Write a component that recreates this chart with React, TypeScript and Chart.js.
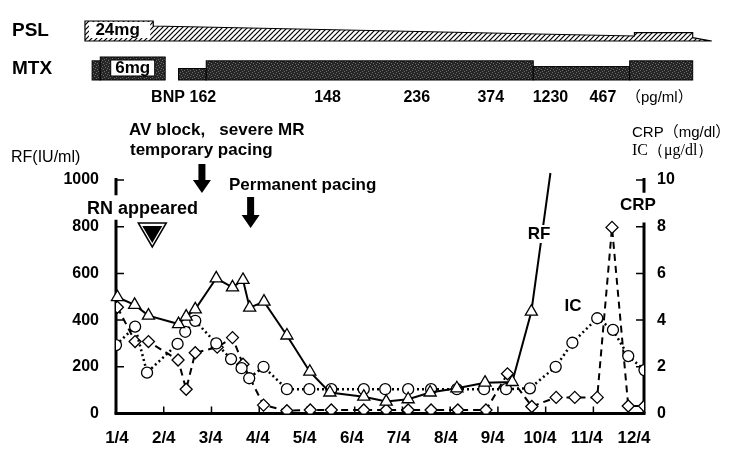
import React, { useEffect, useRef } from "react";
import { Chart, registerables } from "chart.js";

Chart.register(...registerables);

// ---------------- data ----------------
const monthLabels = ["1/4", "2/4", "3/4", "4/4", "5/4", "6/4", "7/4", "8/4", "9/4", "10/4", "11/4", "12/4"];
const monthPositions = [0, 1, 2, 3, 4, 5, 6, 7, 8, 9, 10, 11];
// where each month label is centred on the time axis (as printed)
const monthLabelPositions = [0.02, 1.0, 1.98, 2.97, 3.95, 4.94, 5.92, 6.91, 7.89, 8.88, 9.86, 10.85];
const leftTicks = [0, 200, 400, 600, 800, 1000];
const rightTicks = [0, 2, 4, 6, 8, 10];

// RF (IU/ml), x = months after 1/4
const rfX = [0.03, 0.39, 0.68, 1.31, 1.47, 1.66, 2.1, 2.44, 2.66, 2.8, 3.1, 3.58, 4.06, 4.48, 5.19, 5.66, 6.12, 6.58, 7.14, 7.73, 8.3, 8.7, 9.1];
const rfVal = [498, 465, 419, 383, 415, 446, 579, 540, 572, 453, 479, 334, 179, 90, 72, 51, 61, 90, 108, 132, 135, 436, 1030];

// IC (ug/dl)
const icX = [0.0, 0.4, 0.65, 1.29, 1.45, 1.66, 2.1, 2.41, 2.63, 2.79, 3.09, 3.58, 4.05, 4.51, 5.19, 5.64, 6.12, 6.6, 7.14, 7.71, 8.17, 8.67, 9.21, 9.56, 10.08, 10.41, 10.73, 11.07];
const icVal = [2.93, 3.72, 1.75, 2.98, 3.5, 3.97, 3.0, 2.33, 1.94, 1.51, 2.0, 1.04, 1.04, 1.04, 1.04, 1.04, 1.04, 1.04, 1.04, 1.04, 1.04, 1.08, 2.0, 3.03, 4.08, 3.58, 2.46, 1.86];

// CRP (mg/dl)
const crpX = [0.03, 0.4, 0.68, 1.3, 1.47, 1.66, 2.12, 2.44, 2.66, 3.09, 3.58, 4.07, 4.51, 5.19, 5.66, 6.12, 6.6, 7.16, 7.75, 8.2, 8.71, 9.22, 9.61, 10.08, 10.39, 10.73, 11.07];
const crpVal = [4.55, 3.08, 3.08, 2.29, 1.04, 2.6, 2.84, 3.25, 2.11, 0.36, 0.12, 0.15, 0.15, 0.15, 0.15, 0.15, 0.15, 0.15, 0.15, 1.7, 0.3, 0.69, 0.69, 0.69, 7.97, 0.32, 0.32];

// PSL taper (mg/day) outline points
const pslX = [-0.65, 0.78, 0.78, 10.86, 10.86, 12.08, 12.08, 12.48];
const pslDose = [24, 24, 18, 6, 10, 10, 4, 0];

// MTX (mg/week) segments
const mtxStart = [-0.5, -0.33, 1.31, 1.89, 8.74, 10.76];
const mtxEnd = [-0.33, 1.03, 1.89, 8.74, 10.76, 12.08];
const mtxDose = [5, 6, 3, 5, 3.5, 5];

// BNP (pg/ml)
const bnpX = [1.82, 4.43, 6.3, 7.85, 9.1, 10.2];
const bnpVal = ["162", "148", "236", "374", "1230", "467"];

// events
const eventArrowX = [1.8, 2.82];
const rnX = 0.76;

// ---------------- styles ----------------
const SANS = "'Liberation Sans', Arial, sans-serif";
const SERIF = "'Liberation Serif', 'Times New Roman', serif";
const GOTHIC = "'Liberation Sans', 'Noto Sans CJK JP', sans-serif";

function makeHatch(ctx: CanvasRenderingContext2D) {
  const c = document.createElement("canvas");
  c.width = 5;
  c.height = 5;
  const g = c.getContext("2d")!;
  g.fillStyle = "#fff";
  g.fillRect(0, 0, 5, 5);
  g.strokeStyle = "#000";
  g.lineWidth = 1.2;
  g.beginPath();
  g.moveTo(-1, 6);
  g.lineTo(6, -1);
  g.stroke();
  g.beginPath();
  g.moveTo(-1, 1);
  g.lineTo(1, -1);
  g.stroke();
  g.beginPath();
  g.moveTo(4, 6);
  g.lineTo(6, 4);
  g.stroke();
  return ctx.createPattern(c, "repeat")!;
}

function makeStipple(ctx: CanvasRenderingContext2D) {
  const c = document.createElement("canvas");
  c.width = 6;
  c.height = 6;
  const g = c.getContext("2d")!;
  g.fillStyle = "#262626";
  g.fillRect(0, 0, 6, 6);
  g.fillStyle = "#6a6a6a";
  const dots = [[0, 0], [3, 1], [1, 3], [4, 4], [5, 2], [2, 5]];
  for (const [x, y] of dots) g.fillRect(x, y, 1, 1);
  return ctx.createPattern(c, "repeat")!;
}

function text(ctx: CanvasRenderingContext2D, s: string, x: number, y: number, font: string, align: CanvasTextAlign = "left") {
  ctx.font = font;
  ctx.textAlign = align;
  ctx.textBaseline = "middle";
  ctx.fillStyle = "#000";
  ctx.fillText(s, x, y);
}

function downArrow(ctx: CanvasRenderingContext2D, x: number, top: number, tip: number) {
  const shaft = 3.5;
  const head = 9;
  const headH = 13;
  ctx.beginPath();
  ctx.moveTo(x - shaft, top);
  ctx.lineTo(x + shaft, top);
  ctx.lineTo(x + shaft, tip - headH);
  ctx.lineTo(x + head, tip - headH);
  ctx.lineTo(x, tip);
  ctx.lineTo(x - head, tip - headH);
  ctx.lineTo(x - shaft, tip - headH);
  ctx.closePath();
  ctx.fillStyle = "#000";
  ctx.fill();
}

const overlay = {
  id: "overlay",
  beforeDatasetsDraw(chart: any) {
    const ctx: CanvasRenderingContext2D = chart.ctx;
    const xs = chart.scales.x;
    const yl = chart.scales.y;
    const yr = chart.scales.y2;
    const L = xs.getPixelForValue(0);
    const R = xs.right;
    const B = yl.getPixelForValue(0);
    ctx.save();
    ctx.strokeStyle = "#000";
    ctx.lineCap = "butt";
    // x axis
    ctx.lineWidth = 3;
    ctx.beginPath();
    ctx.moveTo(L - 1.5, B);
    ctx.lineTo(R + 1.5, B);
    ctx.stroke();
    // left axis (broken)
    ctx.beginPath();
    ctx.moveTo(L, B);
    ctx.lineTo(L, yl.getPixelForValue(830));
    ctx.moveTo(L, yl.getPixelForValue(1000) - 2);
    ctx.lineTo(L, yl.getPixelForValue(935));
    ctx.stroke();
    // right axis (broken)
    ctx.beginPath();
    ctx.moveTo(R, B);
    ctx.lineTo(R, yr.getPixelForValue(8.18));
    ctx.moveTo(R, yr.getPixelForValue(10) - 2);
    ctx.lineTo(R, yr.getPixelForValue(9.45));
    ctx.stroke();
    // ticks
    ctx.lineWidth = 1.5;
    ctx.beginPath();
    for (let i = 1; i <= 10; i++) {
      const px = xs.getPixelForValue(monthPositions[i]);
      ctx.moveTo(px, B);
      ctx.lineTo(px, B - 7);
    }
    for (const t of leftTicks.slice(1)) {
      const py = yl.getPixelForValue(t);
      ctx.moveTo(L, py);
      ctx.lineTo(L + 8, py);
    }
    for (const t of rightTicks.slice(1)) {
      const py = yr.getPixelForValue(t);
      ctx.moveTo(R, py);
      ctx.lineTo(R - 8, py);
    }
    ctx.stroke();
    ctx.restore();
  },
  afterDatasetsDraw(chart: any) {
    const ctx: CanvasRenderingContext2D = chart.ctx;
    const xs = chart.scales.x;
    ctx.save();
    const B17 = `bold 17px ${SANS}`;
    // series labels with white background
    const lab = (s: string, cx: number, cy: number) => {
      ctx.font = B17;
      const w = ctx.measureText(s).width;
      ctx.fillStyle = "#fff";
      ctx.fillRect(cx - w / 2 - 2, cy - 9, w + 4, 18);
      text(ctx, s, cx, cy, B17, "center");
    };
    lab("RF", 539, 234);
    lab("IC", 573, 306);
    text(ctx, "CRP", 638, 205, B17, "center");

    // annotations
    text(ctx, "AV block,   severe MR", 129, 130, B17);
    text(ctx, "temporary pacing", 130, 150, B17);
    text(ctx, "Permanent pacing", 229, 185, B17);
    text(ctx, "RN appeared", 87, 209, `bold 18px ${SANS}`);
    downArrow(ctx, xs.getPixelForValue(eventArrowX[0]), 164, 193);
    downArrow(ctx, xs.getPixelForValue(eventArrowX[1]), 197, 228);

    // RN marker
    const rx = xs.getPixelForValue(rnX);
    ctx.beginPath();
    ctx.moveTo(rx - 14, 223);
    ctx.lineTo(rx + 14, 223);
    ctx.lineTo(rx, 247);
    ctx.closePath();
    ctx.lineWidth = 1.5;
    ctx.strokeStyle = "#000";
    ctx.stroke();
    ctx.beginPath();
    ctx.moveTo(rx - 10, 226);
    ctx.lineTo(rx + 10, 226);
    ctx.lineTo(rx, 243);
    ctx.closePath();
    ctx.fillStyle = "#000";
    ctx.fill();

    // axis titles
    text(ctx, "RF(IU/ml)", 11, 158, `16px ${GOTHIC}`);
    text(ctx, "CRP（mg/dl）", 632, 133, `15px ${GOTHIC}`);
    text(ctx, "IC（μg/dl）", 632, 151, `16px ${SERIF}`);
    ctx.restore();
  },
  afterDraw(chart: any) {
    const ctx: CanvasRenderingContext2D = chart.ctx;
    const xs = chart.scales.x;
    const X = (v: number) => xs.getPixelForValue(v);
    ctx.save();
    // labels
    text(ctx, "PSL", 12, 31, `bold 19px ${SANS}`);
    text(ctx, "MTX", 12, 69, `bold 19px ${SANS}`);

    // PSL taper
    const PSL_BASE = 41;
    const PSL_K = 20 / 24;
    ctx.beginPath();
    ctx.moveTo(X(pslX[0]), PSL_BASE);
    for (let i = 0; i < pslX.length; i++) ctx.lineTo(X(pslX[i]), PSL_BASE - pslDose[i] * PSL_K);
    ctx.lineTo(X(pslX[pslX.length - 1]), PSL_BASE);
    ctx.closePath();
    ctx.fillStyle = makeHatch(ctx);
    ctx.fill();
    ctx.lineWidth = 1.2;
    ctx.strokeStyle = "#000";
    ctx.stroke();
    // 24mg box
    {
      const x0 = X(pslX[0]) + 4;
      const x1 = X(pslX[1]) - 3;
      ctx.fillStyle = "#fff";
      ctx.fillRect(x0, PSL_BASE - 19, x1 - x0, 16);
      text(ctx, "24mg", (x0 + x1) / 2 - 2, PSL_BASE - 11, `bold 17px ${SANS}`, "center");
    }

    // MTX
    const MTX_BASE = 80;
    const MTX_K = 23 / 6;
    const stipple = makeStipple(ctx);
    for (let i = 0; i < mtxStart.length; i++) {
      const x0 = X(mtxStart[i]);
      const x1 = X(mtxEnd[i]);
      const top = MTX_BASE - mtxDose[i] * MTX_K;
      ctx.fillStyle = stipple;
      ctx.fillRect(x0, top, x1 - x0, MTX_BASE - top);
      ctx.lineWidth = 1;
      ctx.strokeStyle = "#000";
      ctx.strokeRect(x0, top, x1 - x0, MTX_BASE - top);
    }
    {
      const x0 = X(mtxStart[1]);
      const x1 = X(mtxEnd[1]);
      const cx = (x0 + x1) / 2;
      ctx.fillStyle = "#fff";
      ctx.fillRect(cx - 22, 60, 44, 16);
      ctx.strokeStyle = "#000";
      ctx.lineWidth = 1;
      ctx.strokeRect(cx - 22, 60, 44, 16);
      text(ctx, "6mg", cx, 68, `bold 17px ${SANS}`, "center");
    }

    // BNP
    const BNP_Y = 98;
    text(ctx, "BNP", X(bnpX[0]) - 18, BNP_Y, `bold 16px ${SANS}`, "right");
    for (let i = 0; i < bnpX.length; i++) {
      text(ctx, bnpVal[i], X(bnpX[i]), BNP_Y, `bold 16px ${SANS}`, "center");
    }
    text(ctx, "（pg/ml）", 626, BNP_Y, `15px ${GOTHIC}`);
    ctx.restore();
  },
};

export default function App() {
  const ref = useRef<HTMLCanvasElement>(null);
  useEffect(() => {
    const canvas = ref.current!;
    const tickFont = { family: SANS, weight: "bold" as const, size: 16 };
    const plain = (v: any) => String(v);
    const chart = new Chart(canvas, {
      type: "line",
      data: {
        datasets: [
          {
            label: "RF",
            data: rfX.map((x, i) => ({ x, y: rfVal[i] })),
            yAxisID: "y",
            borderColor: "#000",
            borderWidth: 2,
            pointStyle: "triangle",
            pointRadius: rfX.map((_, i) => (i === rfX.length - 1 ? 0 : 7)),
            pointBackgroundColor: "#fff",
            pointBorderColor: "#000",
            pointBorderWidth: 1.3,
            tension: 0,
            clip: false as any,
            order: 1,
          },
          {
            label: "IC",
            data: icX.map((x, i) => ({ x, y: icVal[i] })),
            yAxisID: "y2",
            borderColor: "#000",
            borderWidth: 2.5,
            borderDash: [2, 3],
            pointStyle: "circle",
            pointRadius: 5.5,
            pointBackgroundColor: "#fff",
            pointBorderColor: "#000",
            pointBorderWidth: 1.3,
            tension: 0,
            order: 2,
          },
          {
            label: "CRP",
            data: crpX.map((x, i) => ({ x, y: crpVal[i] })),
            yAxisID: "y2",
            borderColor: "#000",
            borderWidth: 2,
            borderDash: [7, 5],
            pointStyle: "rectRot",
            pointRadius: 6,
            pointBackgroundColor: "#fff",
            pointBorderColor: "#000",
            pointBorderWidth: 1.3,
            tension: 0,
            order: 3,
          },
        ],
      },
      options: {
        responsive: false,
        animation: false,
        devicePixelRatio: 1,
        layout: { padding: { top: 180, left: 0, right: 0, bottom: 0 } },
        plugins: { legend: { display: false }, tooltip: { enabled: false } },
        scales: {
          x: {
            type: "linear",
            min: 0,
            max: 11.06,
            grid: { display: false, drawTicks: false },
            border: { display: false },
            afterBuildTicks: (s: any) => {
              s.ticks = monthLabelPositions.map((v) => ({ value: v }));
            },
            afterFit: (s: any) => {
              s.height = 40.5;
            },
            ticks: {
              autoSkip: false,
              maxRotation: 0,
              padding: 15,
              color: "#000",
              font: { family: SANS, weight: "bold" as const, size: 17 },
              callback: (_v: any, i: number) => monthLabels[i],
            },
          },
          y: {
            type: "linear",
            position: "left",
            min: 0,
            max: 1000,
            grid: { display: false, drawTicks: false },
            border: { display: false },
            afterBuildTicks: (s: any) => {
              s.ticks = leftTicks.map((v) => ({ value: v }));
            },
            afterFit: (s: any) => {
              s.width = 116;
            },
            ticks: { padding: 17, color: "#000", font: tickFont, callback: plain },
          },
          y2: {
            type: "linear",
            position: "right",
            min: 0,
            max: 10,
            grid: { display: false, drawTicks: false },
            border: { display: false },
            afterBuildTicks: (s: any) => {
              s.ticks = rightTicks.map((v) => ({ value: v }));
            },
            afterFit: (s: any) => {
              s.width = 86;
            },
            ticks: { padding: 13, color: "#000", font: tickFont, callback: plain },
          },
        },
      },
      plugins: [overlay as any],
    });
    return () => chart.destroy();
  }, []);
  return (
    <div style={{ position: "absolute", left: 0, top: 0, width: 730, height: 454, background: "#fff" }}>
      <canvas ref={ref} width={730} height={454} style={{ display: "block" }} />
    </div>
  );
}
